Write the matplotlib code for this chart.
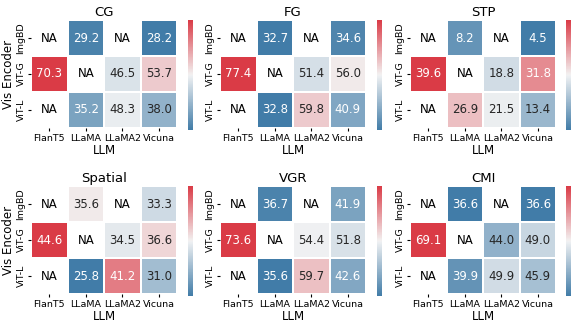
import numpy as np
import matplotlib
matplotlib.use("Agg")
import matplotlib.pyplot as plt
import seaborn as sns

nan = np.nan
encoders = ["ImgBD", "ViT-G", "ViT-L"]
llms = ["FlanT5", "LLaMA", "LLaMA2", "Vicuna"]
titles = ["CG", "FG", "STP", "Spatial", "VGR", "CMI"]

cg = [[nan, 29.2, nan, 28.2], [70.3, nan, 46.5, 53.7], [nan, 35.2, 48.3, 38.0]]
fg = [[nan, 32.7, nan, 34.6], [77.4, nan, 51.4, 56.0], [nan, 32.8, 59.8, 40.9]]
stp = [[nan, 8.2, nan, 4.5], [39.6, nan, 18.8, 31.8], [nan, 26.9, 21.5, 13.4]]
spatial = [[nan, 35.6, nan, 33.3], [44.6, nan, 34.5, 36.6], [nan, 25.8, 41.2, 31.0]]
vgr = [[nan, 36.7, nan, 41.9], [73.6, nan, 54.4, 51.8], [nan, 35.6, 59.7, 42.6]]
cmi = [[nan, 36.6, nan, 36.6], [69.1, nan, 44.0, 49.0], [nan, 39.9, 49.9, 45.9]]
tables = [cg, fg, stp, spatial, vgr, cmi]

W, H = 581, 326
fig = plt.figure(figsize=(W / 100, H / 100), dpi=100)
cmap = sns.diverging_palette(240, 10, as_cmap=True)

lefts = [31, 220, 410]
cb_lefts = [188, 377, 566]
tops = [20, 186]
hw, hh = 146, 108

for i, (name, vals) in enumerate(zip(titles, tables)):
    r, c = divmod(i, 3)
    ax = fig.add_axes([lefts[c] / W, 1 - (tops[r] + hh) / H, hw / W, hh / H])
    cax = fig.add_axes([cb_lefts[c] / W, 1 - (tops[r] + hh + 2) / H, 5 / W, (hh + 2) / H])
    data = np.array(vals)
    sns.heatmap(data, ax=ax, cbar_ax=cax, cmap=cmap, annot=True, fmt=".1f",
                linewidths=1.2, linecolor="white",
                annot_kws={"fontsize": 8.5},
                xticklabels=llms, yticklabels=encoders)
    # NaN cells are skipped by seaborn, so label them by hand
    for (y, x), v in np.ndenumerate(data):
        if np.isnan(v):
            ax.text(x + 0.5, y + 0.5, "NA", ha="center", va="center",
                    fontsize=8.5, color="black")
    cax.set_yticks([])
    ax.set_title(name, fontsize=9.5, pad=3)
    ax.set_xlabel("LLM", fontsize=8.5, labelpad=1)
    if c == 0:
        ax.set_ylabel("Vis Encoder", fontsize=8.5, labelpad=1)
    ax.tick_params(axis="x", labelsize=6.8, rotation=0, pad=2, length=2)
    ax.tick_params(axis="y", labelsize=6.8, rotation=90, pad=2, length=2)
    for lab in ax.get_yticklabels():
        lab.set_va("center")

fig.savefig("out.png", dpi=100)
